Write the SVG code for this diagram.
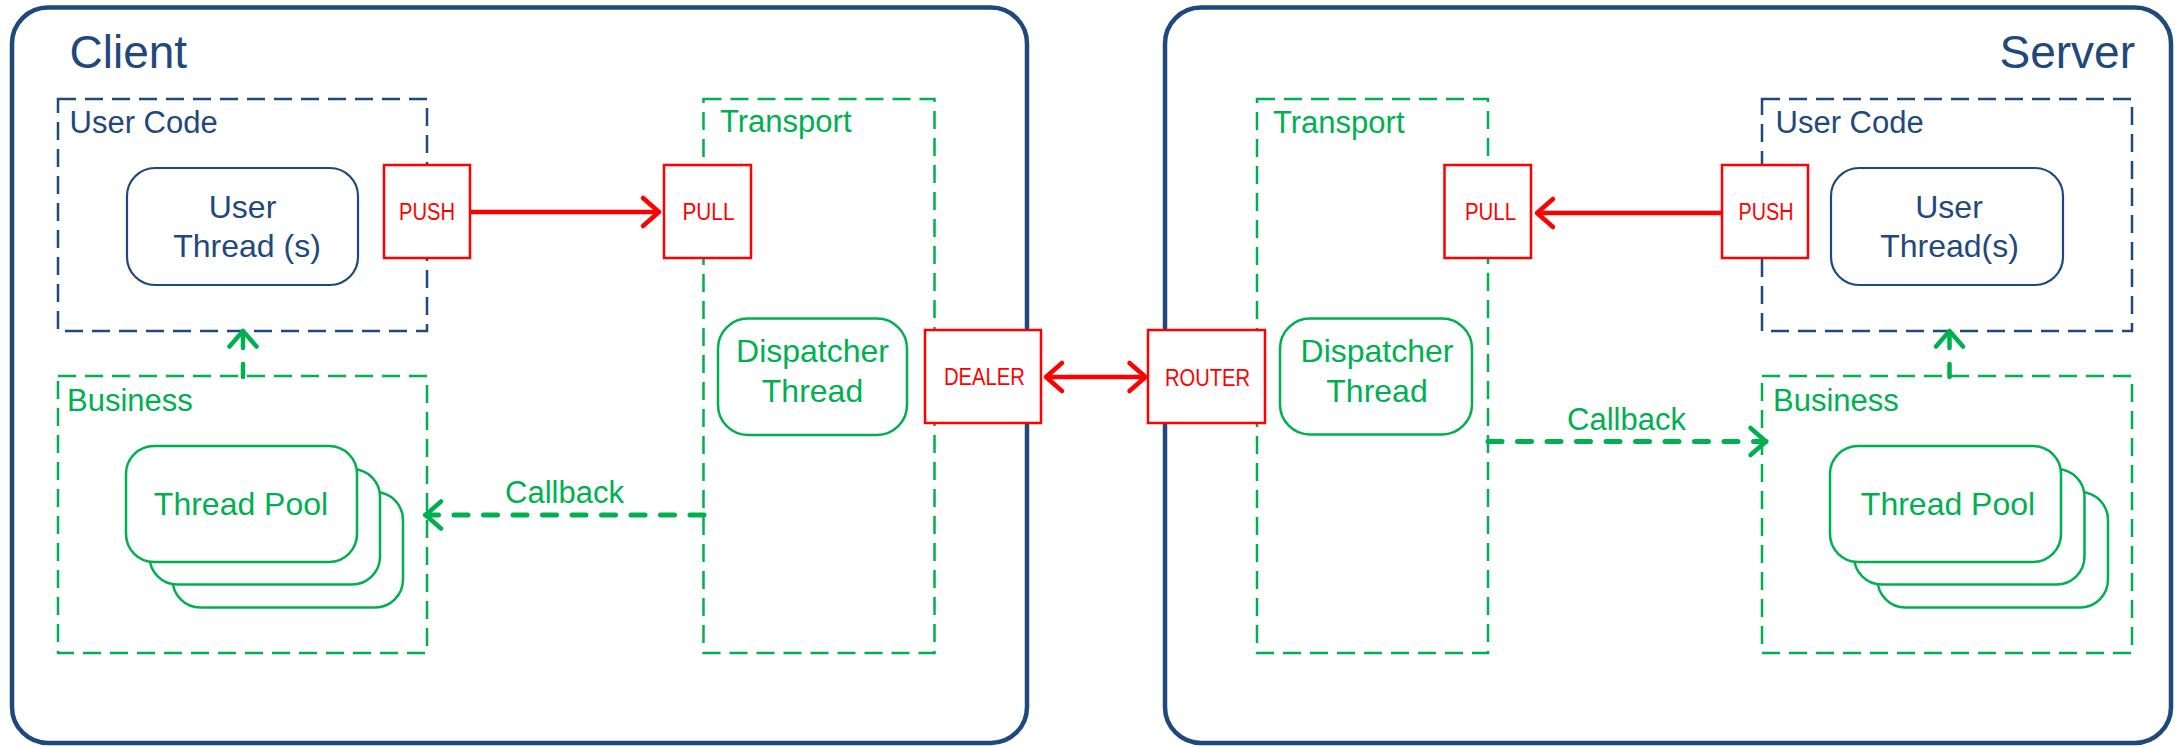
<svg xmlns="http://www.w3.org/2000/svg" width="2175" height="747" viewBox="0 0 2175 747">
  <defs>
    <style>
      .side{fill:#fff;stroke:#1F497D;stroke-width:4.5}
      .title{font-family:"Liberation Sans",Arial,sans-serif;font-size:46px;fill:#1F497D}
      .zone-blue{fill:none;stroke:#1F497D;stroke-width:2.5;stroke-dasharray:18 9}
      .zone-green{fill:none;stroke:#00B050;stroke-width:2.5;stroke-dasharray:18 9}
      .lbl{font-family:"Liberation Sans",Arial,sans-serif;font-size:31px}
      .blue{fill:#1F497D}
      .green{fill:#00B050}
      .thread-blue{fill:#fff;stroke:#1F497D;stroke-width:2.2}
      .thread-green{fill:#fff;stroke:#00B050;stroke-width:2.5}
      .node-text{font-family:"Liberation Sans",Arial,sans-serif;font-size:32px;text-anchor:middle}
      .socket{fill:#fff;stroke:#FF0000;stroke-width:2.5}
      .socket-text{font-family:"Liberation Sans",Arial,sans-serif;font-size:23px;fill:#FF0000;text-anchor:middle}
      .msg{fill:none;stroke:#FF0000;stroke-width:4.5}
      .cb{fill:none;stroke:#00B050;stroke-width:5;stroke-linecap:round;stroke-dasharray:14 15.5}
      .up{fill:none;stroke:#00B050;stroke-width:4.5;stroke-linecap:round;stroke-dasharray:13 16}
    </style>
    <marker id="head-red" markerUnits="userSpaceOnUse" orient="auto-start-reverse" refX="0" refY="0" viewBox="-20 -18 24 36" markerWidth="24" markerHeight="36" overflow="visible">
      <path d="M-16,-14 L0,0 L-16,14" fill="none" stroke="#FF0000" stroke-width="4.5" stroke-linecap="round" stroke-linejoin="round"/>
    </marker>
    <marker id="head-green" markerUnits="userSpaceOnUse" orient="auto" refX="0" refY="0" viewBox="-20 -18 24 36" markerWidth="24" markerHeight="36" overflow="visible">
      <path d="M-15.5,-13.5 L0,0 L-15.5,13.5" fill="none" stroke="#00B050" stroke-width="4.5" stroke-linecap="round" stroke-linejoin="round"/>
    </marker>
  </defs>

  <rect width="2175" height="747" fill="#fff"/>

  <!-- process containers -->
  <g id="client">
    <rect class="side" x="12" y="7.5" width="1015" height="735.5" rx="36"/>
    <text class="title" x="69.5" y="68">Client</text>
  </g>
  <g id="server">
    <rect class="side" x="1165" y="7.5" width="1006" height="735.5" rx="36"/>
    <text class="title" x="2135" y="68" text-anchor="end">Server</text>
  </g>

  <!-- client side zones -->
  <g id="client-user-code">
    <rect class="zone-blue" x="58" y="99" width="369" height="232"/>
    <text class="lbl blue" x="69.5" y="133">User Code</text>
  </g>
  <g id="client-user-thread">
    <rect class="thread-blue" x="127" y="168" width="231" height="117" rx="28"/>
    <text class="node-text blue" x="242.5" y="218">User</text>
    <text class="node-text blue" x="247" y="257">Thread (s)</text>
  </g>
  <g id="client-transport">
    <rect class="zone-green" x="703.5" y="99" width="231" height="554"/>
    <text class="lbl green" x="720" y="132">Transport</text>
  </g>
  <g id="client-dispatcher">
    <rect class="thread-green" x="718" y="318.5" width="189" height="116.5" rx="30"/>
    <text class="node-text green" x="812.5" y="362">Dispatcher</text>
    <text class="node-text green" x="812.5" y="402">Thread</text>
  </g>
  <g id="client-business">
    <rect class="zone-green" x="58" y="376" width="369" height="277"/>
    <text class="lbl green" x="67" y="411">Business</text>
  </g>
  <g id="client-thread-pool">
    <rect class="thread-green" x="172.5" y="492" width="230.5" height="115.5" rx="28"/>
    <rect class="thread-green" x="149.5" y="469" width="230.5" height="115.5" rx="28"/>
    <rect class="thread-green" x="126" y="446" width="231" height="116" rx="28"/>
    <text class="node-text green" x="241" y="514.5">Thread Pool</text>
  </g>

  <!-- server side zones -->
  <g id="server-transport">
    <rect class="zone-green" x="1257" y="99" width="231" height="554"/>
    <text class="lbl green" x="1273" y="133">Transport</text>
  </g>
  <g id="server-dispatcher">
    <rect class="thread-green" x="1280" y="318.5" width="192" height="116" rx="30"/>
    <text class="node-text green" x="1377" y="362">Dispatcher</text>
    <text class="node-text green" x="1377" y="401.5">Thread</text>
  </g>
  <g id="server-user-code">
    <rect class="zone-blue" x="1762" y="99" width="370" height="232"/>
    <text class="lbl blue" x="1775.5" y="133">User Code</text>
  </g>
  <g id="server-user-thread">
    <rect class="thread-blue" x="1831" y="168" width="232" height="117" rx="28"/>
    <text class="node-text blue" x="1949" y="218">User</text>
    <text class="node-text blue" x="1949.5" y="257">Thread(s)</text>
  </g>
  <g id="server-business">
    <rect class="zone-green" x="1762" y="376" width="370" height="277"/>
    <text class="lbl green" x="1773" y="411">Business</text>
  </g>
  <g id="server-thread-pool">
    <rect class="thread-green" x="1877.5" y="492" width="230.5" height="115.5" rx="28"/>
    <rect class="thread-green" x="1854" y="469" width="230.5" height="115.5" rx="28"/>
    <rect class="thread-green" x="1830" y="446" width="231" height="116" rx="28"/>
    <text class="node-text green" x="1948" y="514.5">Thread Pool</text>
  </g>

  <!-- connectors -->
  <g id="connectors">
    <path class="msg" d="M470,212 L659,212" marker-end="url(#head-red)"/>
    <path class="msg" d="M1722,213 L1537,213" marker-end="url(#head-red)"/>
    <path class="msg" d="M1046,377 L1145.5,377" marker-start="url(#head-red)" marker-end="url(#head-red)"/>
    <path class="up" d="M243,377 L243,331" marker-end="url(#head-green)"/>
    <path class="up" d="M1949.5,377 L1949.5,331" marker-end="url(#head-green)"/>
    <path class="cb" d="M704,515 L425.5,515" marker-end="url(#head-green)"/>
    <text class="lbl green" x="505" y="503">Callback</text>
    <path class="cb" d="M1488,441.5 L1766,441.5" marker-end="url(#head-green)"/>
    <text class="lbl green" x="1567" y="429.5">Callback</text>
  </g>

  <!-- sockets -->
  <g id="client-push">
    <rect class="socket" x="384" y="165" width="86" height="93"/>
    <text class="socket-text" x="427" y="220" textLength="56" lengthAdjust="spacingAndGlyphs">PUSH</text>
  </g>
  <g id="client-pull">
    <rect class="socket" x="664" y="165" width="87" height="93"/>
    <text class="socket-text" x="708.5" y="220" textLength="52" lengthAdjust="spacingAndGlyphs">PULL</text>
  </g>
  <g id="client-dealer">
    <rect class="socket" x="925" y="330" width="116" height="93"/>
    <text class="socket-text" x="984.5" y="385" textLength="81" lengthAdjust="spacingAndGlyphs">DEALER</text>
  </g>
  <g id="server-router">
    <rect class="socket" x="1148" y="330" width="117" height="93"/>
    <text class="socket-text" x="1207.5" y="386" textLength="85" lengthAdjust="spacingAndGlyphs">ROUTER</text>
  </g>
  <g id="server-pull">
    <rect class="socket" x="1444.5" y="165" width="86.5" height="93"/>
    <text class="socket-text" x="1490.5" y="220" textLength="51" lengthAdjust="spacingAndGlyphs">PULL</text>
  </g>
  <g id="server-push">
    <rect class="socket" x="1722" y="165" width="86" height="93"/>
    <text class="socket-text" x="1766" y="220" textLength="55" lengthAdjust="spacingAndGlyphs">PUSH</text>
  </g>
</svg>
